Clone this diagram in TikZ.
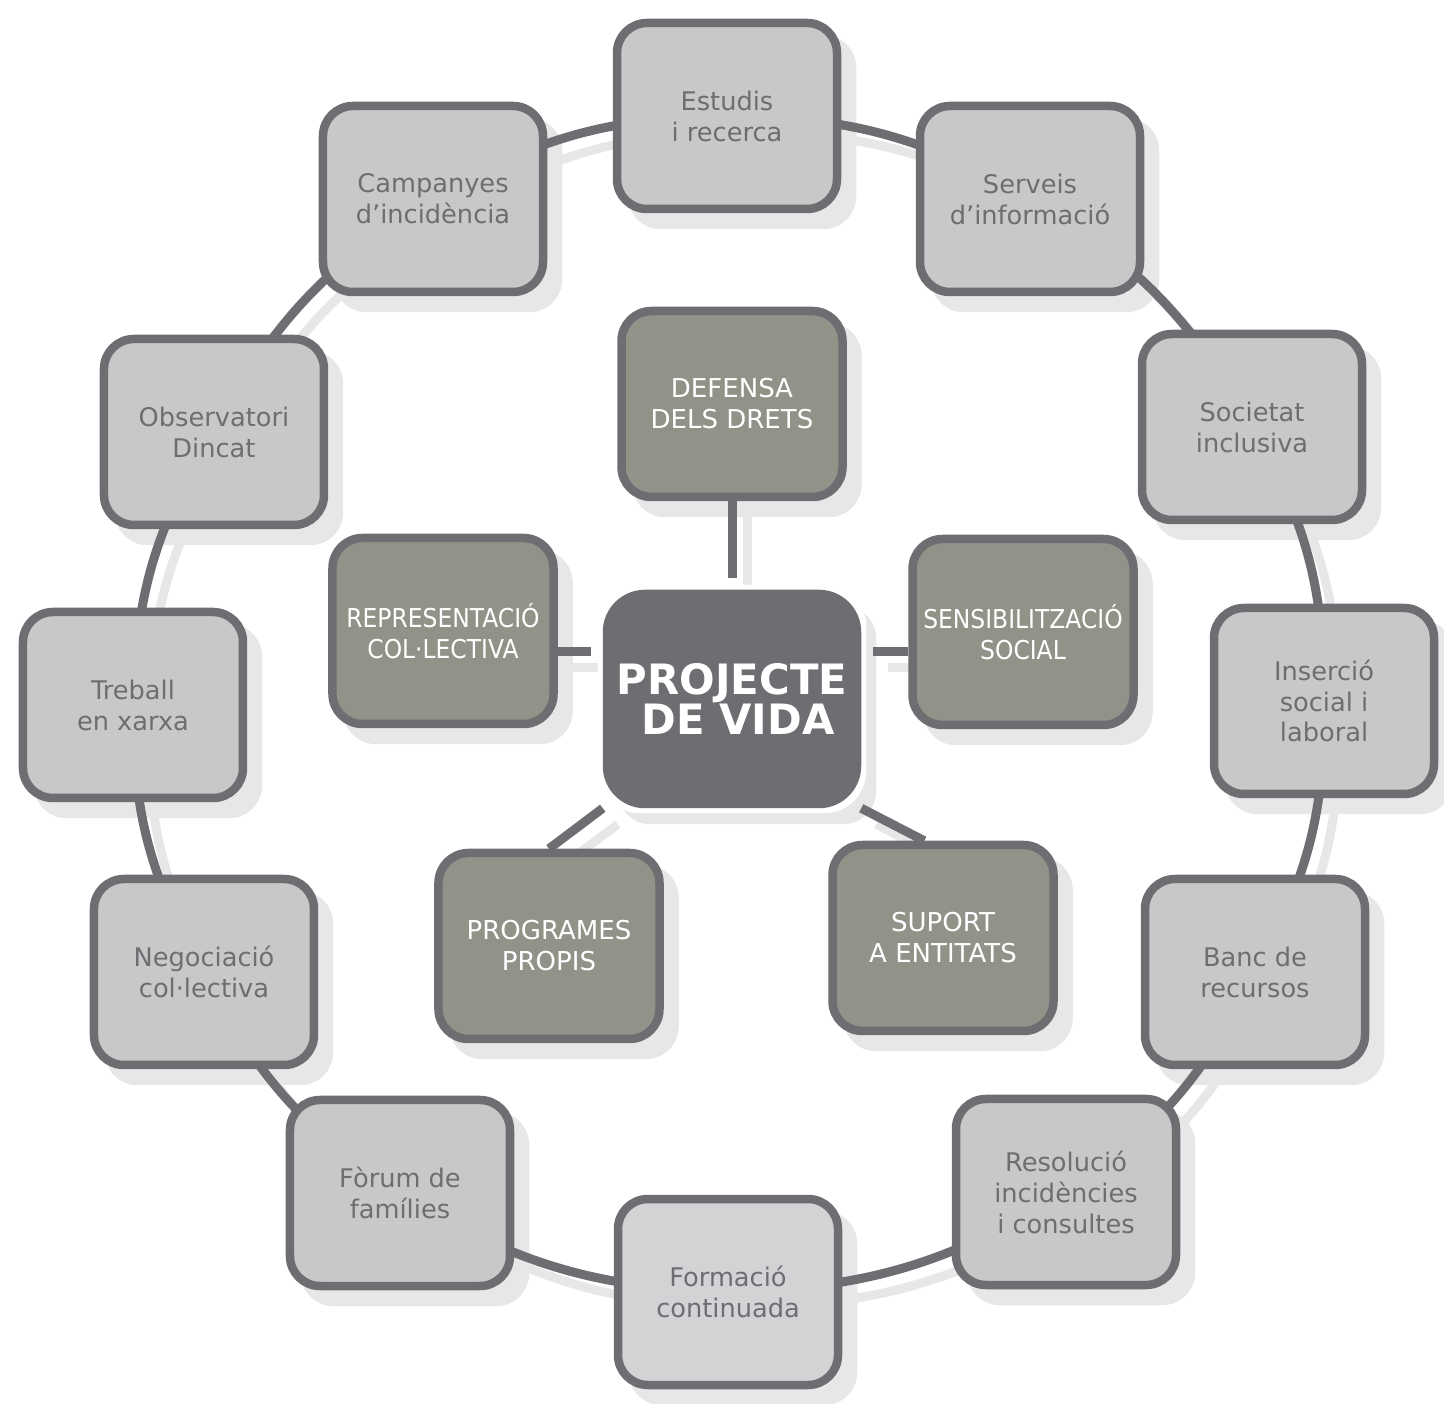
\documentclass[tikz,border=0pt]{standalone}
\usepackage{fontspec}
\setmainfont{DejaVu Sans}
\newfontfamily\estreita[FakeStretch=0.9]{DejaVu Sans}
\usetikzlibrary{backgrounds}
\definecolor{borda}{HTML}{6D6E71}
\definecolor{caixa}{HTML}{C8C8C8}
\definecolor{caixaclara}{HTML}{D2D3D5}
\definecolor{interna}{HTML}{929289}
\definecolor{sombra}{HTML}{E7E7E7}

\begin{document}
\begin{tikzpicture}[line join=round]
            \tikzstyle{externa}=[rectangle, rounded corners=0.3cm, draw=borda, line width=0.085cm, fill=caixa, text=borda, align=center, inner sep=0pt, minimum width=2.2cm, minimum height=1.86cm, font=\fontsize{7.3}{8.8}\selectfont]
            \tikzstyle{interna}=[externa, fill=interna, text=white, minimum width=2.21cm, font=\fontsize{7.4}{8.8}\selectfont]
            \tikzstyle{centro}=[externa, rounded corners=0.38cm, fill=borda, text=white, minimum width=2.5cm, minimum height=2.1cm, font=\fontsize{11.9}{11.4}\selectfont\bfseries]
            \tikzstyle{linha}=[line width=0.09cm]
            \tikzstyle{linhasombra}=[color=sombra, transform canvas={shift={(0.15,-0.16)}}]
            \tikzstyle{linhanormal}=[color=borda]

            \useasboundingbox (-7.28,-7.00) rectangle (7.16,7.04);

            % Centro
            \node[centro] (projecte) at (0.04,0.05) {PROJECTE\\\hspace*{0.12cm}DE VIDA};

            % Caixas internas
            \node[interna] (defensa) at (0.04,3.00) {DEFENSA\\DELS DRETS};
            \node[interna, font=\estreita\fontsize{7.4}{8.8}\selectfont] (sensib) at (2.95,0.72) {SENSIBILITZACIÓ\\SOCIAL};
            \node[interna] (suport) at (2.15,-2.34) {SUPORT\\A ENTITATS};
            \node[interna] (programes) at (-1.79,-2.42) {PROGRAMES\\PROPIS};
            \node[interna, font=\estreita\fontsize{7.4}{8.8}\selectfont] (representacio) at (-2.85,0.73) {REPRESENTACIÓ\\COL·LECTIVA};

            % Caixas externas
            \node[externa] (estudis) at (-0.01,5.88) {Estudis\\i recerca};
            \node[externa] (serveis) at (3.02,5.05) {Serveis\\d’informació};
            \node[externa] (societat) at (5.24,2.77) {Societat\\inclusiva};
            \node[externa] (insercio) at (5.96,0.03) {Inserció\\social i\\laboral};
            \node[externa] (banc) at (5.27,-2.68) {Banc de\\recursos};
            \node[externa] (resolucio) at (3.38,-4.88) {Resolució\\incidències\\i consultes};
            \node[externa, fill=caixaclara] (formacio) at (0,-5.88) {Formació\\continuada};
            \node[externa] (forum) at (-3.28,-4.89) {Fòrum de\\famílies};
            \node[externa] (negociacio) at (-5.24,-2.68) {Negociació\\col·lectiva};
            \node[externa] (treball) at (-5.95,-0.01) {Treball\\en xarxa};
            \node[externa] (observatori) at (-5.14,2.72) {Observatori\\Dincat};
            \node[externa] (campanyes) at (-2.95,5.05) {Campanyes\\d’incidència};

            \begin{scope}[on background layer]
                % Sombras das caixas
                \foreach \n in {projecte, defensa, sensib, suport, programes, representacio, estudis, serveis, societat, insercio, banc, resolucio, formacio, forum, negociacio, treball, observatori, campanyes}
                    \fill[sombra, rounded corners=0.33cm] ([shift={(0.15,-0.16)}]\n.south west) rectangle ([shift={(0.15,-0.16)}]\n.north east);

                % Anel e ligações (primeiro a sombra)
                \foreach \estilo in {linhasombra, linhanormal} {
                    \begin{scope}[\estilo]
                        \foreach \a/\b in {estudis/serveis, serveis/societat, societat/insercio, insercio/banc, banc/resolucio, resolucio/formacio, formacio/forum, forum/negociacio, negociacio/treball, treball/observatori, observatori/campanyes, campanyes/estudis}
                            \draw[linha] (\a.center) to[bend left=15] (\b.center);
                        \draw[linha, shorten > = 0.12cm] (defensa) -- (projecte);
                        \draw[linha, shorten > = 0.12cm] ([yshift=-0.21cm]representacio.east) -- ([yshift=-0.21cm]representacio.east -| projecte.west);
                        \draw[linha, shorten > = 0.12cm] ([yshift=-0.2cm]sensib.west) -- ([yshift=-0.2cm]sensib.west -| projecte.east);
                        \draw[linha] ([xshift=0.96cm]suport.north west) -- (projecte.south east);
                        \draw[linha] (programes.north) -- (projecte.south west);
                    \end{scope}
                }

                % Contorno branco do centro
                \fill[white, rounded corners=0.42cm] ([shift={(-0.05,-0.05)}]projecte.south west) rectangle ([shift={(0.05,0.05)}]projecte.north east);
            \end{scope}
\end{tikzpicture}
\end{document}
